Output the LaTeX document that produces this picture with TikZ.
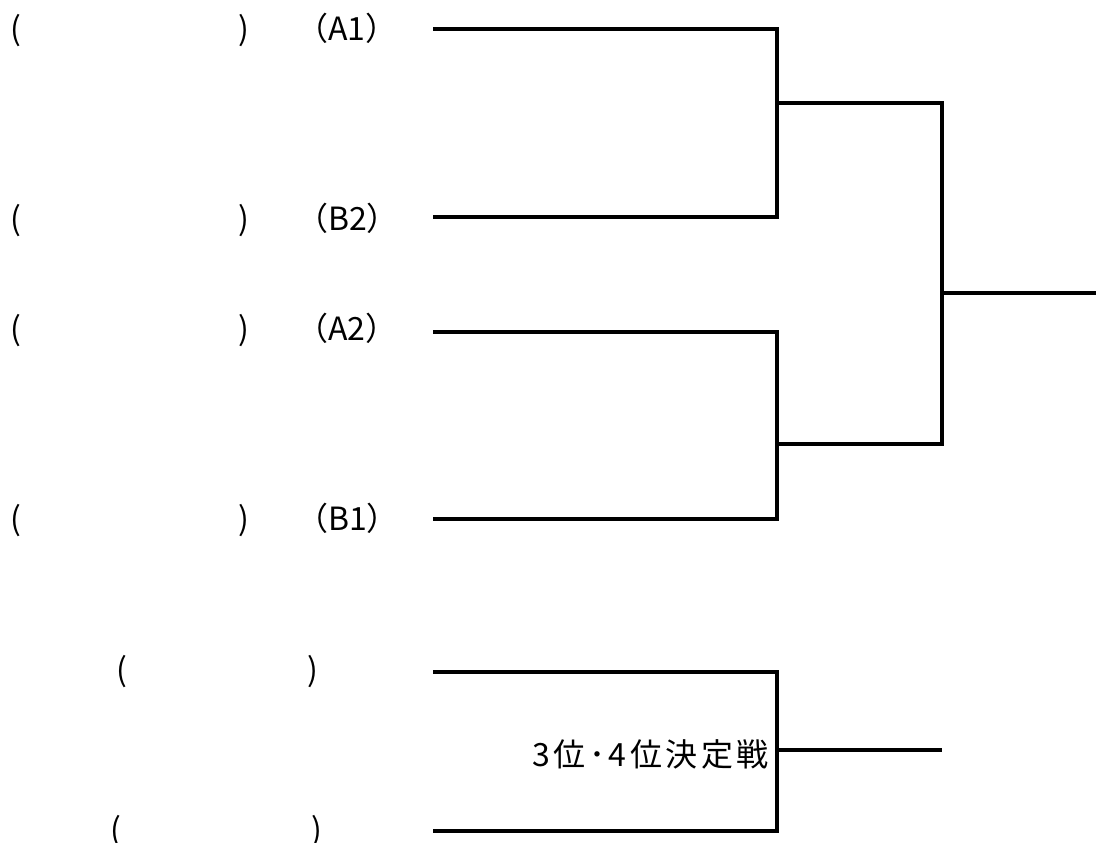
\documentclass[tikz,border=0pt]{standalone}
\usepackage{fontspec}
\setmainfont{Noto Sans CJK JP}
\newfontfamily\jpwide[LetterSpace=11]{Noto Sans CJK JP}
\begin{document}
\begin{tikzpicture}[x=1pt,y=-1pt,
  lbl/.style={anchor=base west,inner sep=0pt,font=\fontsize{32}{32}\selectfont},
  brk/.style={line width=3.2pt,line join=miter,black}]
\useasboundingbox (0,0) rectangle (1096,843);
% entrants
\node[lbl] (p1) at (10,41) {(\hspace{217pt})};
\node[lbl] (p2) at (10,230) {(\hspace{217pt})};
\node[lbl] (p3) at (10,340) {(\hspace{217pt})};
\node[lbl] (p4) at (10,530) {(\hspace{217pt})};
\node[lbl] (s1) at (296,41) {（A1）};
\node[lbl] (s2) at (296,230) {（B2）};
\node[lbl] (s3) at (296,340) {（A2）};
\node[lbl] (s4) at (296,530) {（B1）};
\node[lbl] (q1) at (116,681) {(\hspace{180pt})};
\node[lbl] (q2) at (110,841) {(\hspace{190pt})};
% line ends
\coordinate (a1) at (433,29);
\coordinate (b2) at (433,217);
\coordinate (a2) at (433,332);
\coordinate (b1) at (433,519);
\coordinate (t1) at (433,672);
\coordinate (t2) at (433,831);
\coordinate (m1) at (777,103);
\coordinate (m2) at (777,444);
\coordinate (f) at (942,293);
\coordinate (fe) at (1096,293);
\coordinate (m3) at (777,750);
\coordinate (te) at (942,750);
% brackets
\draw[brk] (a1) -- (a1 -| m1) -- (b2 -| m1) -- (b2);
\draw[brk] (a2) -- (a2 -| m2) -- (b1 -| m2) -- (b1);
\draw[brk] (m1) -- (m1 -| f) -- (m2 -| f) -- (m2);
\draw[brk] (f) -- (fe);
\draw[brk] (t1) -- (t1 -| m3) -- (t2 -| m3) -- (t2);
\draw[brk] (m3) -- (te);
\node[lbl,anchor=base east,font=\jpwide\fontsize{32}{32}\selectfont] (third) at (769,766) {3位･4位決定戦};
\end{tikzpicture}
\end{document}
